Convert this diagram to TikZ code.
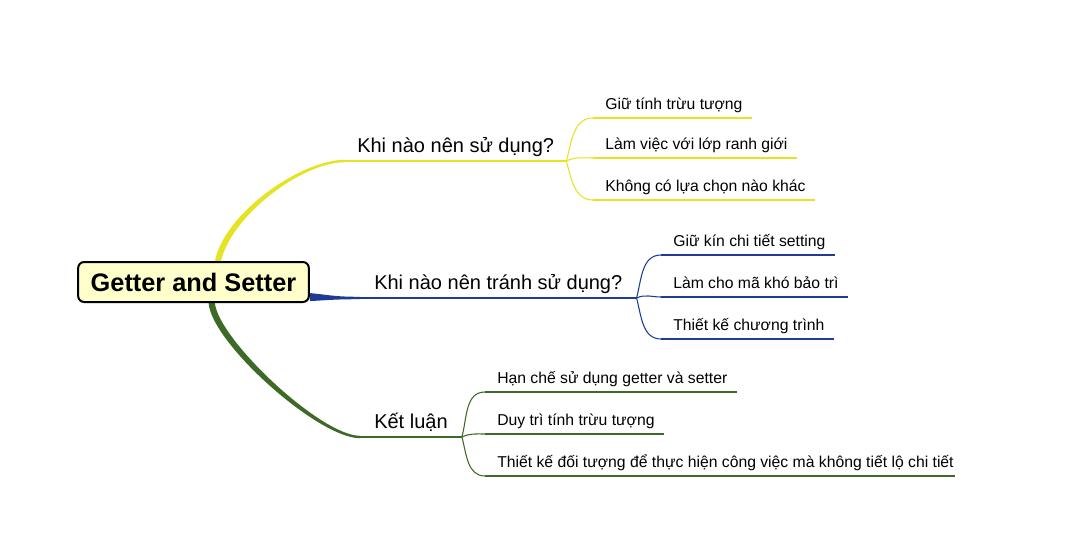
\documentclass[tikz,border=0pt]{standalone}
\usepackage{fontspec}
\setmainfont{Liberation Sans}
\usetikzlibrary{calc,backgrounds}

\definecolor{ycol}{RGB}{228,228,36}
\definecolor{bcol}{RGB}{30,60,150}
\definecolor{gcol}{RGB}{62,106,40}
\definecolor{rootfill}{RGB}{255,255,204}

\begin{document}
\begin{tikzpicture}[x=0.75pt,y=-0.75pt,
  branch/.style={anchor=south west,inner xsep=9pt,inner ysep=3pt,text depth=3.5pt,font=\fontsize{15}{18}\selectfont},
  leaf/.style={anchor=south west,inner xsep=9pt,inner ysep=3pt,text depth=3.5pt,font=\fontsize{11.8}{14}\selectfont}]
\useasboundingbox (0,0) rectangle (1070,557);
% centre
\node[draw=black,line width=1.5pt,rounded corners=4.5pt,fill=rootfill,
  minimum width=173pt,minimum height=30pt,
  font=\bfseries\fontsize{19}{22}\selectfont] (root) at (193.5,282) {Getter and Setter};
% main branches
\node[branch] (use)   at (345,161) {Khi nào nên sử dụng?};
\node[branch,inner xsep=10.5pt] (avoid) at (360,298) {Khi nào nên tránh sử dụng?};
\node[branch,inner xsep=10.5pt] (concl) at (360,437) {Kết luận};
% leaves
\node[leaf] (use1) at (593,118) {Giữ tính trừu tượng};
\node[leaf] (use2) at (593,158) {Làm việc với lớp ranh giới};
\node[leaf] (use3) at (593,200) {Không có lựa chọn nào khác};
\node[leaf] (avoid1) at (661,255) {Giữ kín chi tiết setting};
\node[leaf] (avoid2) at (661,297) {Làm cho mã khó bảo trì};
\node[leaf] (avoid3) at (661,339) {Thiết kế chương trình};
\node[leaf] (concl1) at (485,392) {Hạn chế sử dụng getter và setter};
\node[leaf] (concl2) at (485,434) {Duy trì tính trừu tượng};
\node[leaf] (concl3) at (485,476) {Thiết kế đối tượng để thực hiện công việc mà không tiết lộ chi tiết};

\begin{scope}[on background layer]
\fill[white] (0,0) rectangle (1070,557);
% tapered links from the centre
\fill[ycol] ([xshift=16.1pt]root.north) .. controls +(9,-47) and +(-45,0) .. ([yshift=.9pt]use.south west)
  -- ([yshift=-.9pt]use.south west) .. controls +(-43,0) and +(11,-46) .. ([xshift=20.6pt]root.north) -- cycle;
\fill[bcol] ([yshift=-8.3pt]root.east) .. controls +(20,2) and +(-25,0) .. ([yshift=.9pt]avoid.south west)
  -- ([yshift=-.9pt]avoid.south west) .. controls +(-25,0) and +(20,-1) .. ([yshift=-14.3pt]root.east) -- cycle;
\fill[gcol] ([xshift=11.3pt]root.south) .. controls +(3,40) and +(-42,0) .. ([yshift=-.9pt]concl.south west)
  -- ([yshift=.9pt]concl.south west) .. controls +(-39,0) and +(4,37) .. ([xshift=16pt]root.south) -- cycle;
\end{scope}

% yellow
\draw[ycol,line width=1.5pt] (use.south west) -- (use.south east);
\draw[ycol,line width=.8pt] (use.south east) to[out=75,in=180] (use1.south west);
\draw[ycol,line width=.8pt] (use.south east) to[out=25,in=180] (use2.south west);
\draw[ycol,line width=.8pt] (use.south east) to[out=-75,in=180] (use3.south west);
\draw[ycol,line width=.8pt] (use1.south west) -- ([xshift=-2pt]use1.south east);
\draw[ycol,line width=.8pt] (use2.south west) -- ([xshift=-2pt]use2.south east);
\draw[ycol,line width=.8pt] (use3.south west) -- ([xshift=-2pt]use3.south east);
% blue
\draw[bcol,line width=1.5pt] (avoid.south west) -- (avoid.south east);
\draw[bcol,line width=.8pt] (avoid.south east) to[out=75,in=180] (avoid1.south west);
\draw[bcol,line width=.8pt] (avoid.south east) to[out=25,in=180] (avoid2.south west);
\draw[bcol,line width=.8pt] (avoid.south east) to[out=-75,in=180] (avoid3.south west);
\draw[bcol,line width=.8pt] (avoid1.south west) -- ([xshift=-2pt]avoid1.south east);
\draw[bcol,line width=.8pt] (avoid2.south west) -- ([xshift=-2pt]avoid2.south east);
\draw[bcol,line width=.8pt] (avoid3.south west) -- ([xshift=-2pt]avoid3.south east);
% green
\draw[gcol,line width=1.5pt] (concl.south west) -- (concl.south east);
\draw[gcol,line width=.8pt] (concl.south east) to[out=75,in=180] (concl1.south west);
\draw[gcol,line width=.8pt] (concl.south east) to[out=25,in=180] (concl2.south west);
\draw[gcol,line width=.8pt] (concl.south east) to[out=-75,in=180] (concl3.south west);
\draw[gcol,line width=.8pt] (concl1.south west) -- ([xshift=-2pt]concl1.south east);
\draw[gcol,line width=.8pt] (concl2.south west) -- ([xshift=-2pt]concl2.south east);
\draw[gcol,line width=.8pt] (concl3.south west) -- ([xshift=-8pt]concl3.south east);
\end{tikzpicture}
\end{document}
